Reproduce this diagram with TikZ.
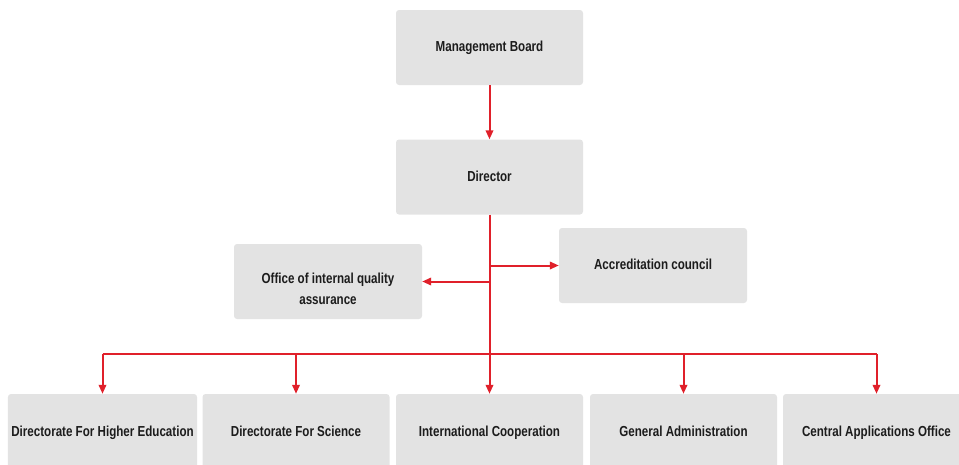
\documentclass[tikz,border=0pt]{standalone}
\usepackage{fontspec}
\setmainfont{Liberation Sans}[FakeStretch=0.8]
\usepackage{tikz}
\usetikzlibrary{arrows.meta}
\definecolor{boxgray}{HTML}{E3E3E3}
\definecolor{linkred}{HTML}{E0202A}
\definecolor{inkgray}{HTML}{1C1C1C}

\begin{document}
\begin{tikzpicture}[x=1pt,y=-1pt,
  unit/.style={fill=boxgray,rounded corners=3pt,minimum width=187pt,minimum height=75pt,
    align=center,text=inkgray,text height=11pt,text depth=3pt,
    font=\fontsize{14.5}{21}\selectfont\bfseries},
  wire/.style={draw=linkred,line width=2pt},
  link/.style={wire,-{Triangle[length=9pt,width=7.5pt]}}]
  \useasboundingbox (0,0) rectangle (959,464);
  \clip (0,0) rectangle (959,464);

  %top
  \node[unit] (board) at (489.5,47.5) {Management Board};
  \node[unit] (director) at (489.5,177) {Director};
  \node[unit,minimum width=188pt,text height=48.5pt,text depth=2pt] (quality) at (328,281.5) {Office of internal quality\\assurance};
  \node[unit,minimum width=188pt] (council) at (653,265.5) {Accreditation council};
  \coordinate (hub) at (489.5,354);

  %bottom
  \node[unit,minimum height=76pt] (higher) at (102.5,432) {Directorate For Higher Education};
  \node[unit,minimum height=76pt] (science) at (296,432) {Directorate For Science};
  \node[unit,minimum height=76pt] (intl) at (489.5,432) {International Cooperation};
  \node[unit,minimum height=76pt] (admin) at (683.5,432) {General Administration};
  \node[unit,minimum height=76pt] (central) at (876.5,432) {Central Applications Office};

  %links
  \draw[link] (board) -- (director);
  \draw[wire] (director.south) -- (hub);
  \draw[link] (quality.east -| director.south) -- (quality.east);
  \draw[link] (council.west -| director.south) -- (council.west);
  \draw[wire] (higher.north |- hub) -- (central.north |- hub);
  \foreach \b in {higher,science,intl,admin,central}
    \draw[link] (\b.north |- hub) -- (\b.north);
\end{tikzpicture}
\end{document}
